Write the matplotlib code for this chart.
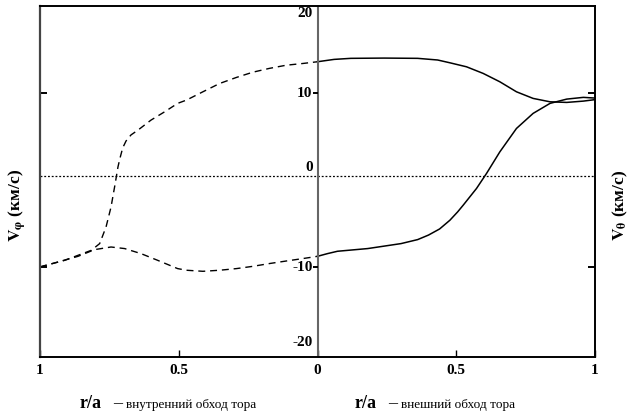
import matplotlib
matplotlib.use("Agg")
import matplotlib.pyplot as plt
import numpy as np

plt.rcParams['font.family'] = ['Liberation Serif', 'DejaVu Serif']
plt.rcParams['mathtext.fontset'] = 'stix'

# ---------------- data ----------------
# inner bypass (left half, r/a from 1 to 0), dashed
inner_up_r = [1.0, 0.911, 0.815, 0.785, 0.762, 0.744, 0.729, 0.719, 0.712, 0.702, 0.69,
              0.672, 0.647, 0.60, 0.551, 0.504, 0.472, 0.413, 0.353, 0.292, 0.233, 0.173,
              0.113, 0.053, 0.0]
inner_up_v = [-9.95, -9.2, -8.05, -7.28, -5.37, -3.07, -0.38, 1.53, 2.5, 3.7, 4.5,
              5.2, 5.75, 6.9, 7.85, 8.82, 9.2, 10.15, 11.1, 11.8, 12.4, 12.84,
              13.2, 13.4, 13.6]
inner_lo_r = [1.0, 0.935, 0.863, 0.803, 0.744, 0.695, 0.636, 0.576, 0.504, 0.472, 0.413,
              0.353, 0.292, 0.233, 0.173, 0.113, 0.053, 0.0]
inner_lo_v = [-9.97, -9.39, -8.74, -7.97, -7.67, -7.85, -8.43, -9.2, -10.15, -10.34, -10.46,
              -10.34, -10.15, -9.89, -9.57, -9.28, -9.0, -8.74]

# outer bypass (right half, r/a from 0 to 1), solid
outer_up_r = [0.0, 0.06, 0.12, 0.241, 0.361, 0.433, 0.477, 0.537, 0.597, 0.657, 0.717,
              0.777, 0.838, 0.898, 0.958, 1.0]
outer_up_v = [13.6, 13.87, 13.99, 14.02, 13.99, 13.8, 13.48, 13.02, 12.26, 11.3, 10.15,
              9.39, 9.0, 8.93, 9.08, 9.25]
outer_lo_r = [0.0, 0.036, 0.072, 0.181, 0.301, 0.361, 0.40, 0.44, 0.477, 0.505, 0.525,
              0.573, 0.609, 0.657, 0.717, 0.777, 0.838, 0.898, 0.958, 1.0]
outer_lo_v = [-8.74, -8.43, -8.16, -7.85, -7.28, -6.82, -6.3, -5.6, -4.6, -3.64, -2.87,
              -0.95, 0.77, 3.25, 5.94, 7.67, 8.82, 9.31, 9.51, 9.43]

ref_level = 0.45
y_ticks = [20, 10, 0, -10, -20]
x_tick_pos = [-1, -0.5, 0, 0.5, 1]
x_tick_labels = ['1', '0.5', '0', '0.5', '1']

# ---------------- figure ----------------
fig = plt.figure(figsize=(6.33, 4.13), dpi=100)
ax = fig.add_axes([40/633, 1-357/413, (595-40)/633, (357-6)/413])
ax.set_xlim(-1, 1)
ax.set_ylim(-20.3, 20.0)

ax.plot(-np.array(inner_up_r), inner_up_v, color='black', lw=1.0, ls=(0, (5, 3.5)))
ax.plot(-np.array(inner_lo_r), inner_lo_v, color='black', lw=1.0, ls=(0, (5, 3.5)))
ax.plot(outer_up_r, outer_up_v, color='black', lw=1.1)
ax.plot(outer_lo_r, outer_lo_v, color='black', lw=1.1)

ax.axhline(ref_level, color='black', lw=0.9, ls=(0, (1.5, 1.5)))
ax.axvline(0, color='#666666', lw=1.5)

for s in ['top', 'bottom', 'right']:
    ax.spines[s].set_linewidth(1.4)
    ax.spines[s].set_color('black')
ax.spines['left'].set_linewidth(1.6)
ax.spines['left'].set_color('#444444')

ax.set_yticks([-10, 10])
ax.tick_params(axis='y', which='both', direction='in', left=True, right=True,
               labelleft=False, labelright=False, length=5, width=1.4, color='black')
ax.set_xticks(x_tick_pos)
ax.set_xticklabels(x_tick_labels, fontsize=11, fontweight='bold')
ax.tick_params(axis='x', direction='in', length=5, width=1.0, pad=5)

# center axis tick marks and labels
for v in [10, -10]:
    ax.plot([-0.016, 0], [v, v], color='black', lw=1.4, solid_capstyle='butt')
for v in y_ticks:
    kw = dict(transform=ax.transData, ha='right', fontsize=11, fontweight='bold')
    if v == 20:
        ax.text(-0.018, v - 0.1, str(v), va='top', **kw)
    elif v == -20:
        ax.text(-0.018, v + 0.6, str(v), va='bottom', **kw)
    elif v == 0:
        ax.text(-0.018, ref_level + 0.3, str(v), va='bottom', **kw)
    else:
        ax.text(-0.018, v, str(v), va='center', **kw)

# axis titles
fig.text(18/633, 1-205/413, r'$\mathbf{V}_{\mathbf{\varphi}}$ (км/с)', rotation=90,
         ha='center', va='center', fontsize=12.5, fontweight='bold')
fig.text(620/633, 1-205/413, r'$\mathbf{V}_{\mathbf{\theta}}$ (км/с)', rotation=90,
         ha='center', va='center', fontsize=12.5, fontweight='bold')

base_y = 1 - 408/413
fig.text(80/633, base_y, 'r/a', ha='left', va='baseline', fontsize=13, fontweight='bold')
fig.text(113/633, base_y, '–', ha='left', va='baseline', fontsize=13)
fig.text(126/633, base_y, 'внутренний обход тора', ha='left', va='baseline', fontsize=9.5)
fig.text(355/633, base_y, 'r/a', ha='left', va='baseline', fontsize=13, fontweight='bold')
fig.text(388/633, base_y, '–', ha='left', va='baseline', fontsize=13)
fig.text(401/633, base_y, 'внешний обход тора', ha='left', va='baseline', fontsize=9.5)

fig.savefig('out.png', dpi=100)
